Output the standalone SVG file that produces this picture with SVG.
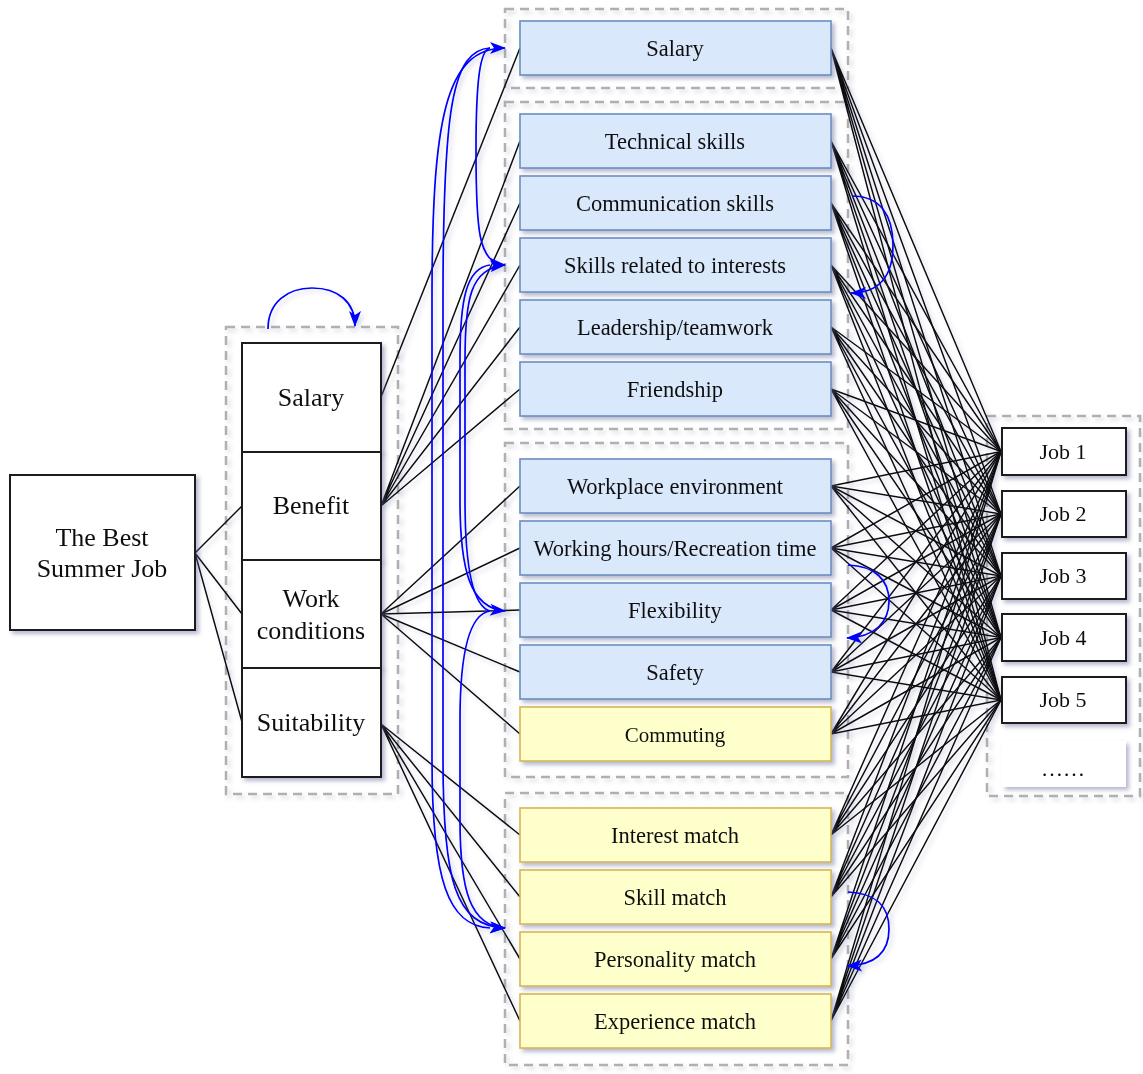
<svg xmlns="http://www.w3.org/2000/svg" width="1143" height="1074" viewBox="0 0 1143 1074">
<style>
text{font-family:"Liberation Serif","Times New Roman",serif;fill:#111;text-anchor:middle}
.crit{font-size:26px}
.sub{font-size:22.5px}
.job{font-size:22px}
.cl{fill:none;stroke:#b0b0b0;stroke-width:2.5;stroke-dasharray:9 6}
.wb{fill:#fff;stroke:#1a1a1a;stroke-width:2}
.bb{fill:#dae8fc;stroke:#6c8ebf;stroke-width:1.6}
.yb{fill:#ffffcc;stroke:#d6b656;stroke-width:1.6}
.ln{fill:none;stroke:#111;stroke-width:1.5}
.bl{fill:none;stroke:#0000ff;stroke-width:1.7}
</style>
<defs>
<filter id="sh" x="-10%" y="-10%" width="130%" height="140%">
<feDropShadow dx="3" dy="3" stdDeviation="2.2" flood-color="#5a6496" flood-opacity="0.45"/>
</filter>
<filter id="shl" x="-10%" y="-10%" width="130%" height="130%">
<feDropShadow dx="3" dy="3" stdDeviation="2" flood-color="#5a6496" flood-opacity="0.25"/>
</filter>
<marker id="ar" refX="15" refY="6" markerWidth="16" markerHeight="12" markerUnits="userSpaceOnUse" orient="auto" overflow="visible">
<path d="M0,0 L16,6 L0,12 L4,6 z" fill="#0000ff"/>
</marker>
</defs>

<g id="clusters" filter="url(#shl)">
<rect id="cluster-criteria" class="cl" x="226" y="327" width="172" height="467"/>
<rect id="cluster-a" class="cl" x="505" y="9" width="343" height="79"/>
<rect id="cluster-b" class="cl" x="505" y="102" width="343" height="327"/>
<rect id="cluster-c" class="cl" x="505" y="443" width="343" height="334"/>
<rect id="cluster-d" class="cl" x="505" y="793" width="343" height="272"/>
<rect id="cluster-jobs" class="cl" x="987" y="416" width="153" height="380"/>
</g>

<g id="connectors">
<g filter="url(#shl)">
<path class="ln" d="M195 553 L242 506 M195 553 L242 614 M195 553 L242 722"/>
<path class="ln" d="M381 397 L520 48"/>
<path class="ln" d="M381 506 L520 141 M381 506 L520 203 M381 506 L520 265 M381 506 L520 327 M381 506 L520 389"/>
<path class="ln" d="M381 614 L520 486 M381 614 L520 548 M381 614 L520 610 M381 614 L520 672 M381 614 L520 734"/>
<path class="ln" d="M381 724 L520 835 M381 724 L520 897 M381 724 L520 959 M381 724 L520 1021"/>
<path class="ln" d="M831 48 L1001 451.5 M831 48 L1001 514 M831 48 L1001 576 M831 48 L1001 637.5 M831 48 L1001 700"/>
<path class="ln" d="M831 141 L1001 451.5 M831 141 L1001 514 M831 141 L1001 576 M831 141 L1001 637.5 M831 141 L1001 700"/>
<path class="ln" d="M831 203 L1001 451.5 M831 203 L1001 514 M831 203 L1001 576 M831 203 L1001 637.5 M831 203 L1001 700"/>
<path class="ln" d="M831 265 L1001 451.5 M831 265 L1001 514 M831 265 L1001 576 M831 265 L1001 637.5 M831 265 L1001 700"/>
<path class="ln" d="M831 327 L1001 451.5 M831 327 L1001 514 M831 327 L1001 576 M831 327 L1001 637.5 M831 327 L1001 700"/>
<path class="ln" d="M831 389 L1001 451.5 M831 389 L1001 514 M831 389 L1001 576 M831 389 L1001 637.5 M831 389 L1001 700"/>
<path class="ln" d="M831 486 L1001 451.5 M831 486 L1001 514 M831 486 L1001 576 M831 486 L1001 637.5 M831 486 L1001 700"/>
<path class="ln" d="M831 548 L1001 451.5 M831 548 L1001 514 M831 548 L1001 576 M831 548 L1001 637.5 M831 548 L1001 700"/>
<path class="ln" d="M831 610 L1001 451.5 M831 610 L1001 514 M831 610 L1001 576 M831 610 L1001 637.5 M831 610 L1001 700"/>
<path class="ln" d="M831 672 L1001 451.5 M831 672 L1001 514 M831 672 L1001 576 M831 672 L1001 637.5 M831 672 L1001 700"/>
<path class="ln" d="M831 734 L1001 451.5 M831 734 L1001 514 M831 734 L1001 576 M831 734 L1001 637.5 M831 734 L1001 700"/>
<path class="ln" d="M831 835 L1001 451.5 M831 835 L1001 514 M831 835 L1001 576 M831 835 L1001 637.5 M831 835 L1001 700"/>
<path class="ln" d="M831 897 L1001 451.5 M831 897 L1001 514 M831 897 L1001 576 M831 897 L1001 637.5 M831 897 L1001 700"/>
<path class="ln" d="M831 959 L1001 451.5 M831 959 L1001 514 M831 959 L1001 576 M831 959 L1001 637.5 M831 959 L1001 700"/>
<path class="ln" d="M831 1021 L1001 451.5 M831 1021 L1001 514 M831 1021 L1001 576 M831 1021 L1001 637.5 M831 1021 L1001 700"/>
</g>
<g id="feedback" filter="url(#shl)">
<path class="bl" marker-end="url(#ar)" d="M268 329 C268 302 288 288 312 288 C338 288 355 302 355 326"/>
<path class="bl" marker-end="url(#ar)" d="M490 928 C448 926 432 880 432 760 L432 300 C432 120 445 48 505 48"/>
<path class="bl" marker-end="url(#ar)" d="M490 48 C452 50 443 110 443 300 L443 760 C443 880 455 926 505 928"/>
<path class="bl" marker-end="url(#ar)" d="M490 48 C480 50 476 80 476 150 C476 230 478 263 505 265"/>
<path class="bl" marker-end="url(#ar)" d="M490 265 C466 268 460 300 460 360 L460 500 C460 570 470 608 505 611"/>
<path class="bl" marker-end="url(#ar)" d="M490 611 C472 606 465 565 465 500 L465 360 C465 300 470 268 505 265"/>
<path class="bl" marker-end="url(#ar)" d="M490 611 C470 614 460 650 460 720 L460 820 C460 890 470 926 505 928"/>
<path class="bl" marker-end="url(#ar)" d="M852 196 C880 196 893 215 893 245 C893 275 880 293 851 293"/>
<path class="bl" marker-end="url(#ar)" d="M848 565 C875 566 889 580 889 601 C889 622 875 637 847 638"/>
<path class="bl" marker-end="url(#ar)" d="M848 892 C875 893 889 906 889 929 C889 952 875 965 847 966"/>
</g>
</g>

<g id="goal" filter="url(#sh)">
<rect class="wb" x="10" y="475" width="185" height="155"/>
<text class="crit" x="102" y="546">The Best</text>
<text class="crit" x="102" y="577">Summer Job</text>
</g>

<g id="crit-salary" filter="url(#sh)">
<rect class="wb" x="242" y="343" width="139" height="109"/>
<text class="crit" x="311" y="406">Salary</text>
</g>
<g id="crit-benefit" filter="url(#sh)">
<rect class="wb" x="242" y="452" width="139" height="108"/>
<text class="crit" x="311" y="514">Benefit</text>
</g>
<g id="crit-work" filter="url(#sh)">
<rect class="wb" x="242" y="560" width="139" height="108"/>
<text class="crit" x="311" y="607">Work</text>
<text class="crit" x="311" y="639">conditions</text>
</g>
<g id="crit-suit" filter="url(#sh)">
<rect class="wb" x="242" y="668" width="139" height="109"/>
<text class="crit" x="311" y="731">Suitability</text>
</g>

<g id="sub-salary" filter="url(#sh)"><rect class="bb" x="520" y="21" width="311" height="54"/><text class="sub" x="675" y="56">Salary</text></g>
<g id="sub-technical" filter="url(#sh)"><rect class="bb" x="520" y="114" width="311" height="54"/><text class="sub" x="675" y="149">Technical skills</text></g>
<g id="sub-communication" filter="url(#sh)"><rect class="bb" x="520" y="176" width="311" height="54"/><text class="sub" x="675" y="211">Communication skills</text></g>
<g id="sub-skills-interests" filter="url(#sh)"><rect class="bb" x="520" y="238" width="311" height="54"/><text class="sub" x="675" y="273">Skills related to interests</text></g>
<g id="sub-leadership" filter="url(#sh)"><rect class="bb" x="520" y="300" width="311" height="54"/><text class="sub" x="675" y="335">Leadership/teamwork</text></g>
<g id="sub-friendship" filter="url(#sh)"><rect class="bb" x="520" y="362" width="311" height="54"/><text class="sub" x="675" y="397">Friendship</text></g>
<g id="sub-workplace" filter="url(#sh)"><rect class="bb" x="520" y="459" width="311" height="54"/><text class="sub" x="675" y="494">Workplace environment</text></g>
<g id="sub-hours" filter="url(#sh)"><rect class="bb" x="520" y="521" width="311" height="54"/><text class="sub" x="675" y="556">Working hours/Recreation time</text></g>
<g id="sub-flexibility" filter="url(#sh)"><rect class="bb" x="520" y="583" width="311" height="54"/><text class="sub" x="675" y="618">Flexibility</text></g>
<g id="sub-safety" filter="url(#sh)"><rect class="bb" x="520" y="645" width="311" height="54"/><text class="sub" x="675" y="680">Safety</text></g>
<g id="sub-commuting" filter="url(#sh)"><rect class="yb" x="520" y="707" width="311" height="54"/><text class="sub" x="675" y="742" style="font-size:21px">Commuting</text></g>
<g id="sub-interest" filter="url(#sh)"><rect class="yb" x="520" y="808" width="311" height="54"/><text class="sub" x="675" y="843">Interest match</text></g>
<g id="sub-skill" filter="url(#sh)"><rect class="yb" x="520" y="870" width="311" height="54"/><text class="sub" x="675" y="905">Skill match</text></g>
<g id="sub-personality" filter="url(#sh)"><rect class="yb" x="520" y="932" width="311" height="54"/><text class="sub" x="675" y="967">Personality match</text></g>
<g id="sub-experience" filter="url(#sh)"><rect class="yb" x="520" y="994" width="311" height="54"/><text class="sub" x="675" y="1029">Experience match</text></g>

<g id="job1" filter="url(#sh)"><rect class="wb" x="1002" y="428" width="124" height="47"/><text class="job" x="1063" y="459">Job 1</text></g>
<g id="job2" filter="url(#sh)"><rect class="wb" x="1002" y="491" width="124" height="46"/><text class="job" x="1063" y="521">Job 2</text></g>
<g id="job3" filter="url(#sh)"><rect class="wb" x="1002" y="553" width="124" height="46"/><text class="job" x="1063" y="583">Job 3</text></g>
<g id="job4" filter="url(#sh)"><rect class="wb" x="1002" y="614" width="124" height="47"/><text class="job" x="1063" y="645">Job 4</text></g>
<g id="job5" filter="url(#sh)"><rect class="wb" x="1002" y="677" width="124" height="46"/><text class="job" x="1063" y="707">Job 5</text></g>
<g id="job-more" filter="url(#sh)"><rect x="1002" y="741" width="124" height="46" fill="#fff"/><text class="job" x="1063" y="776">……</text></g>
</svg>
